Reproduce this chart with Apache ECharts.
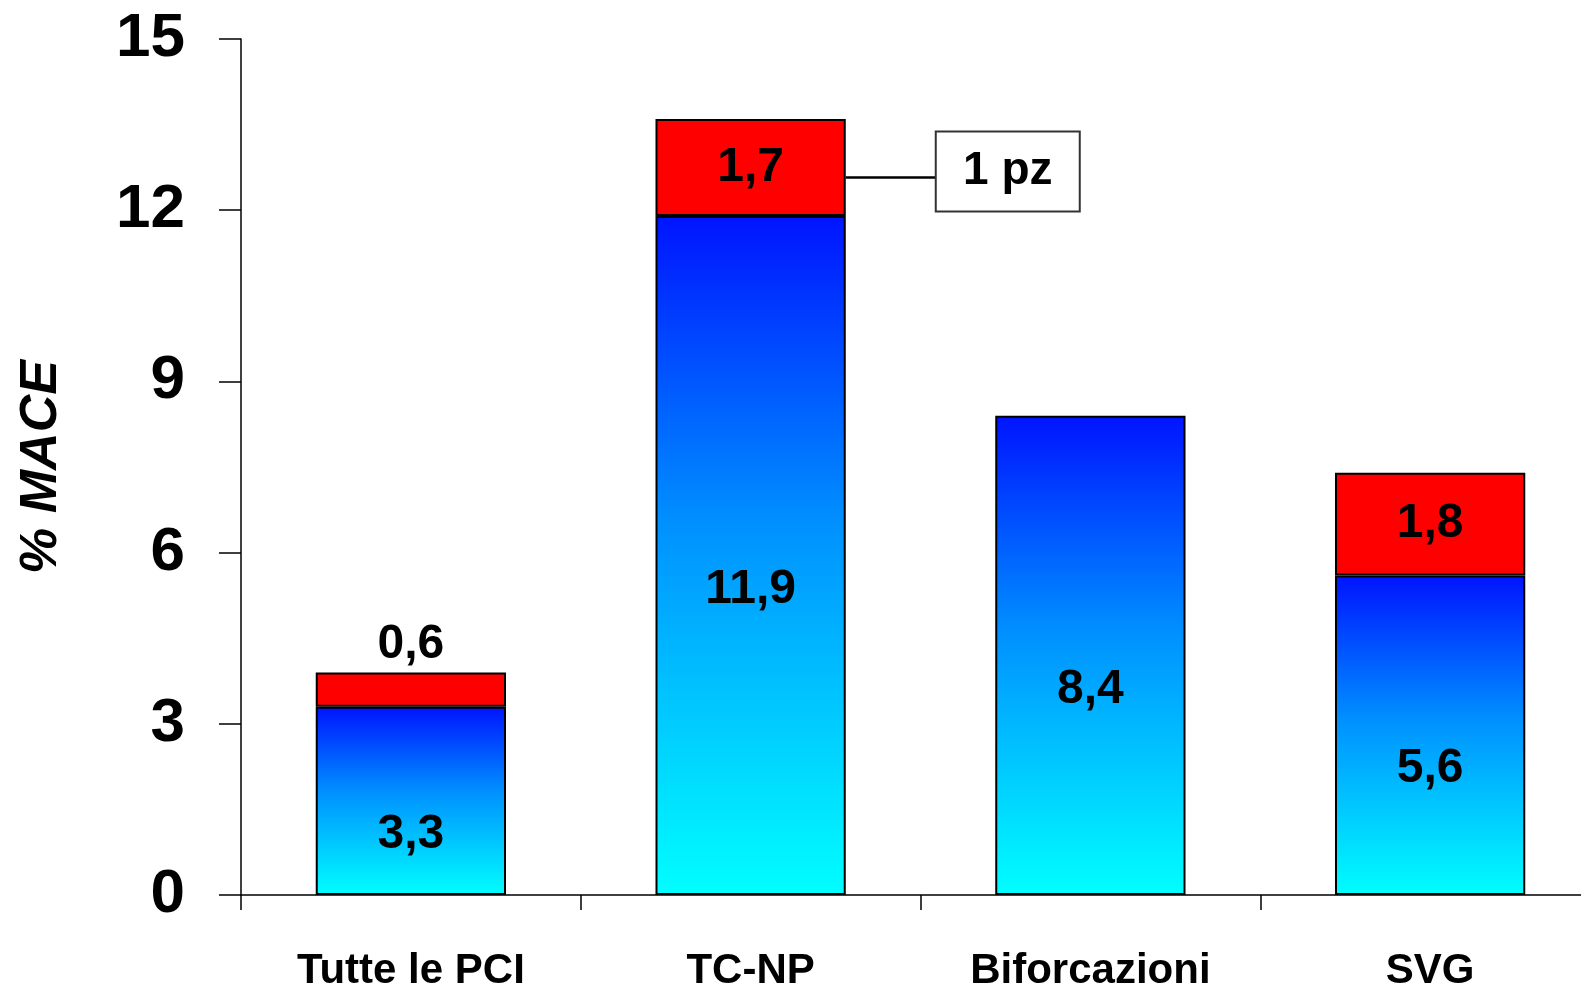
<!DOCTYPE html>
<html><head><meta charset="utf-8">
<script src="https://cdn.jsdelivr.net/npm/echarts@6/dist/echarts.min.js"></script>
<style>html,body{margin:0;padding:0;background:#fff}#c{width:1581px;height:985px}</style>
</head><body><div id="c"></div>
<script>
const categories = ['Tutte le PCI', 'TC-NP', 'Biforcazioni', 'SVG'];
const baseValues = [3.3, 11.9, 8.4, 5.6];
const topValues = [0.6, 1.7, null, 1.8];
const yTicks = [0, 3, 6, 9, 12, 15];
const yAxisName = '% MACE';
const noteText = '1 pz';
const noteCategory = 'TC-NP';

const FONT = 'Liberation Sans';
const BAR_FRAC = 0.56;
const fmt = v => String(v).replace('.', ',');

const chart = echarts.init(document.getElementById('c'), null, {renderer: 'canvas'});
const blueGrad = new echarts.graphic.LinearGradient(0, 0, 0, 1, [
  {offset: 0, color: '#0014ff'},
  {offset: 0.45, color: '#0090ff'},
  {offset: 1, color: '#00ffff'}
]);
const redData = topValues.map(v => (v !== null && v < 1) ? {value: v, label: {position: 'top', distance: 4}} : v);

chart.setOption({
  animation: false,
  grid: {left: 241, top: 39, bottom: 90, right: -19, containLabel: false, outerBoundsMode: 'none'},
  xAxis: {
    type: 'category', data: categories,
    axisLine: {lineStyle: {color: '#000', width: 1.5}},
    axisTick: {show: true, length: 15, lineStyle: {color: '#000', width: 1.5}},
    axisLabel: {color: '#000', fontFamily: FONT, fontWeight: 'bold', fontSize: 42, margin: 55}
  },
  yAxis: {
    type: 'value', min: yTicks[0], max: yTicks[yTicks.length - 1], interval: yTicks[1] - yTicks[0],
    name: yAxisName, nameLocation: 'middle', nameGap: 173, nameRotate: 90,
    nameTextStyle: {color: '#000', fontFamily: FONT, fontWeight: 'bold', fontStyle: 'italic', fontSize: 52},
    axisLine: {show: true, lineStyle: {color: '#000', width: 1.5}},
    axisTick: {show: true, length: 22, lineStyle: {color: '#000', width: 1.5}},
    splitLine: {show: false},
    axisLabel: {color: '#000', fontFamily: FONT, fontWeight: 'bold', fontSize: 62, margin: 56}
  },
  series: [
    {
      type: 'bar', stack: 'a', data: baseValues, barWidth: (BAR_FRAC * 100) + '%',
      itemStyle: {color: blueGrad, borderColor: '#000', borderWidth: 2},
      label: {show: true, position: 'inside', offset: [0, 34], color: '#000', fontFamily: FONT, fontWeight: 'bold', fontSize: 48,
        formatter: p => fmt(p.value)}
    },
    {
      type: 'bar', stack: 'a', data: redData, barWidth: (BAR_FRAC * 100) + '%',
      itemStyle: {color: '#ff0000', borderColor: '#000', borderWidth: 2},
      label: {show: true, position: 'inside', color: '#000', fontFamily: FONT, fontWeight: 'bold', fontSize: 48,
        formatter: p => fmt(p.value)}
    }
  ]
});

// annotation attached to the red segment of noteCategory
const ni = categories.indexOf(noteCategory);
const segMid = baseValues[ni] + topValues[ni] / 2;
const p0 = chart.convertToPixel({gridIndex: 0}, [ni, segMid]);
const p1 = chart.convertToPixel({gridIndex: 0}, [ni + 1, segMid]);
const band = p1[0] - p0[0];
const barRight = p0[0] + band * BAR_FRAC / 2;
const lineY = p0[1] + 10;
const boxX = barRight + 90, boxW = 144, boxH = 80;
chart.setOption({
  graphic: [
    {type: 'line', shape: {x1: barRight, y1: lineY, x2: boxX, y2: lineY}, style: {stroke: '#000', lineWidth: 2.5}, z: 10},
    {type: 'rect', shape: {x: boxX, y: lineY - boxH / 2 - 6, width: boxW, height: boxH}, style: {fill: '#fff', stroke: '#333', lineWidth: 2}, z: 10},
    {type: 'text', x: boxX + boxW / 2, y: lineY - 6, style: {text: noteText, fill: '#000', font: 'bold 46px "' + FONT + '"', align: 'center', verticalAlign: 'middle'}, z: 11}
  ]
});
</script></body></html>
